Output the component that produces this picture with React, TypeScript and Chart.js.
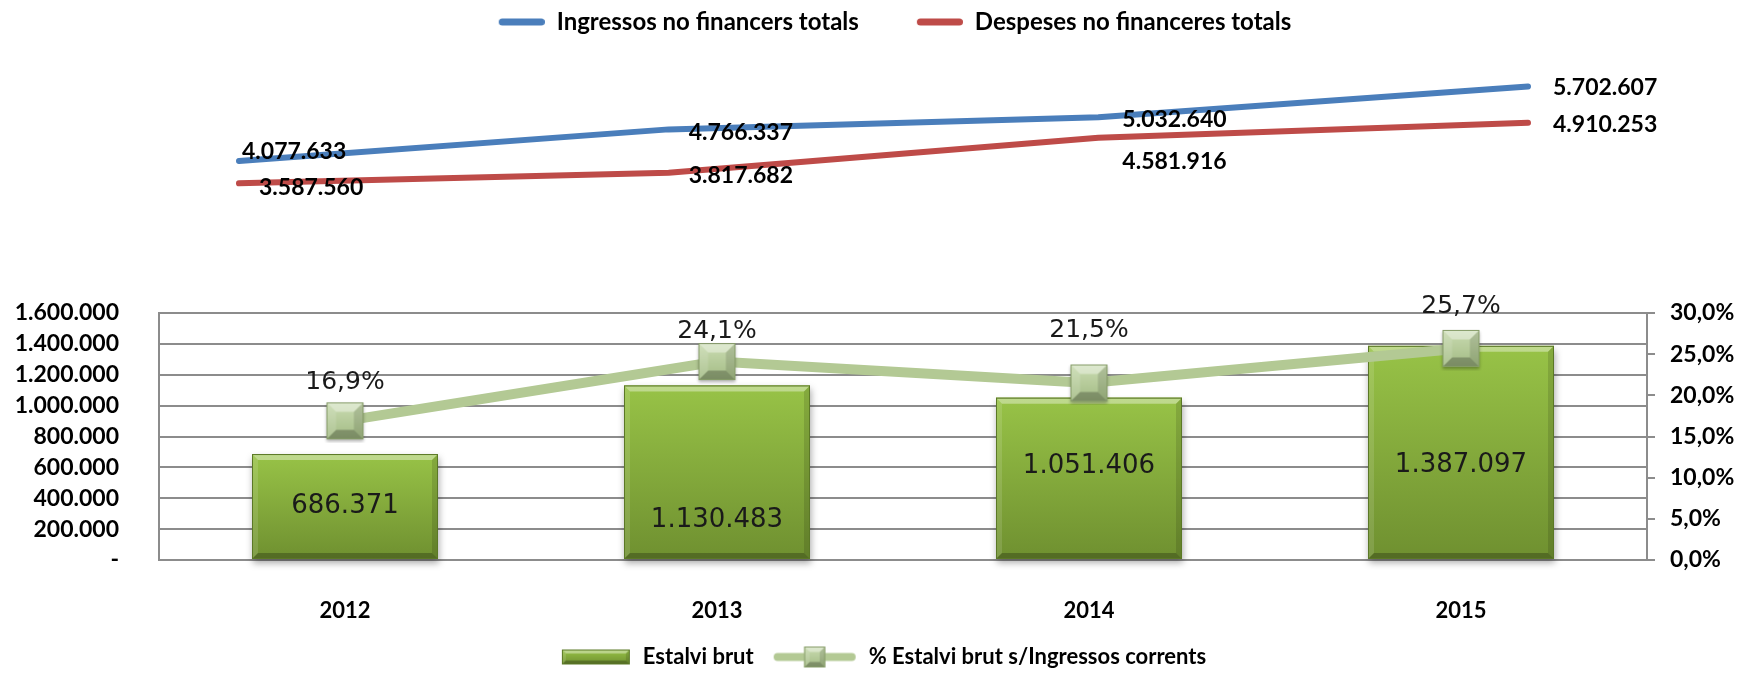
import React, { useEffect, useRef } from 'react';
import { Chart, registerables } from 'chart.js';

Chart.register(...registerables);

const W = 1742;
const H = 678;

// ---------- data ----------
const years = ['2012', '2013', '2014', '2015'];
const ingressosTotals = [4077633, 4766337, 5032640, 5702607];
const despesesTotals = [3587560, 3817682, 4581916, 4910253];
const estalviBrut = [686371, 1130483, 1051406, 1387097];
const pctEstalvi = [16.9, 24.1, 21.5, 25.7];

const topLegendLabels = ['Ingressos no financers totals', 'Despeses no financeres totals'];
const bottomLegendLabels = ['Estalvi brut', '% Estalvi brut s/Ingressos corrents'];

// axis ranges
const leftAxisMax = 1600000;
const leftAxisStep = 200000;
const rightAxisMax = 30;
const rightAxisStep = 5;
const topAxisMin = 1914400;
const topAxisMax = 6630550;

// ---------- label placement (style) ----------
const ingressosLabelDx = [3, 20, 24, 25];
const ingressosLabelDy = [-9, 3, 2, 1];
const despesesLabelDx = [20, 20, 24, 25];
const despesesLabelDy = [4, 3, 24, 2];
const barLabelDy = [0, 48, -12, 13];
const pctLabelRise = [38, 30, 52, 42];

const BOLD_FONT = 'Lato';
const LABEL_FONT = "'DejaVu Sans'";
const GRID = '#8c8c8c';

function fmtThousands(n: number): string {
  return String(Math.round(n)).replace(/\B(?=(\d{3})+(?!\d))/g, '.');
}
function fmtPct(v: number): string {
  return v.toFixed(1).replace('.', ',') + '%';
}

type Palette = { face0: string; face1: string; border: string };

function poly(g: CanvasRenderingContext2D, pts: number[], fill: string) {
  g.beginPath();
  g.moveTo(pts[0], pts[1]);
  for (let i = 2; i < pts.length; i += 2) g.lineTo(pts[i], pts[i + 1]);
  g.closePath();
  g.fillStyle = fill;
  g.fill();
}

function drawBevel(g: CanvasRenderingContext2D, x: number, y: number, w: number, h: number, b: number, pal: Palette) {
  const x1 = x + w;
  const y1 = y + h;
  const face = g.createLinearGradient(0, y, 0, y1);
  face.addColorStop(0, pal.face0);
  face.addColorStop(1, pal.face1);
  g.fillStyle = face;
  g.fillRect(x, y, w, h);
  const bb = Math.min(b, w / 2, h / 2);
  poly(g, [x, y, x1, y, x1 - bb, y + bb, x + bb, y + bb], 'rgba(255,255,255,0.38)');
  poly(g, [x, y, x + bb, y + bb, x + bb, y1 - bb, x, y1], 'rgba(255,255,255,0.12)');
  poly(g, [x1, y, x1, y1, x1 - bb, y1 - bb, x1 - bb, y + bb], 'rgba(0,0,0,0.12)');
  poly(g, [x, y1, x + bb, y1 - bb, x1 - bb, y1 - bb, x1, y1], 'rgba(0,0,0,0.25)');
  g.strokeStyle = pal.border;
  g.lineWidth = 1;
  g.strokeRect(x + 0.5, y + 0.5, w - 1, h - 1);
}

const barPalette: Palette = { face0: '#98c347', face1: '#6f9030', border: '#5b7826' };
const markerPalette: Palette = { face0: '#cadcb2', face1: '#a3bb84', border: '#869c68' };
const LINE_GREEN = '#b3c994';
const BLUE = '#4a7ebb';
const RED = '#be4b48';

function makeMarker(size: number): HTMLCanvasElement {
  const pad = 4;
  const c = document.createElement('canvas');
  c.width = size + pad * 2;
  c.height = size + pad * 2;
  const g = c.getContext('2d')!;
  g.save();
  g.shadowColor = 'rgba(0,0,0,0.3)';
  g.shadowBlur = 3;
  g.shadowOffsetY = 2;
  g.fillStyle = markerPalette.face1;
  g.fillRect(pad, pad, size, size);
  g.restore();
  drawBevel(g, pad, pad, size, size, size * 0.26, markerPalette);
  return c;
}

function makeLineIcon(color: string, boxW: number, lineLen: number): HTMLCanvasElement {
  const c = document.createElement('canvas');
  c.width = boxW;
  c.height = 12;
  const g = c.getContext('2d')!;
  g.strokeStyle = color;
  g.lineWidth = 7;
  g.lineCap = 'round';
  g.beginPath();
  g.moveTo(boxW - lineLen + 3.5, 6);
  g.lineTo(boxW - 3.5, 6);
  g.stroke();
  return c;
}

function makeBarIcon(boxW: number, iconW: number, iconH: number): HTMLCanvasElement {
  const c = document.createElement('canvas');
  c.width = boxW;
  c.height = iconH + 6;
  const g = c.getContext('2d')!;
  drawBevel(g, boxW - iconW - 2, 3, iconW, iconH, 4, barPalette);
  return c;
}

function makeLineMarkerIcon(boxW: number, lineLen: number, sq: number): HTMLCanvasElement {
  const c = document.createElement('canvas');
  c.width = boxW;
  c.height = sq + 6;
  const g = c.getContext('2d')!;
  const cy = c.height / 2;
  const x0 = boxW - lineLen - 2;
  g.strokeStyle = LINE_GREEN;
  g.lineWidth = 8;
  g.lineCap = 'round';
  g.beginPath();
  g.moveTo(x0 + 4, cy);
  g.lineTo(boxW - 6, cy);
  g.stroke();
  const mx = x0 + lineLen / 2 - sq / 2;
  drawBevel(g, mx, cy - sq / 2, sq, sq, sq * 0.26, markerPalette);
  return c;
}

const topLabelsPlugin = {
  id: 'topLabels',
  afterDatasetsDraw(chart: any) {
    const ctx = chart.ctx as CanvasRenderingContext2D;
    ctx.save();
    ctx.font = `bold 23px ${BOLD_FONT}`;
    ctx.fillStyle = '#000';
    ctx.textAlign = 'left';
    ctx.textBaseline = 'middle';
    chart.data.datasets.forEach((ds: any, di: number) => {
      const meta = chart.getDatasetMeta(di);
      meta.data.forEach((pt: any, i: number) => {
        ctx.fillText(fmtThousands(ds.data[i]), pt.x + ds.labelDx[i], pt.y + ds.labelDy[i]);
      });
    });
    ctx.restore();
  },
};

const barBevelPlugin = {
  id: 'barBevel',
  afterDatasetDraw(chart: any, args: any) {
    if (args.meta.type !== 'bar') return;
    const ctx = chart.ctx as CanvasRenderingContext2D;
    args.meta.data.forEach((el: any) => {
      const { x, y, base, width } = el.getProps(['x', 'y', 'base', 'width'], true);
      const l = x - width / 2;
      const h = base - y;
      ctx.save();
      ctx.shadowColor = 'rgba(0,0,0,0.35)';
      ctx.shadowBlur = 7;
      ctx.shadowOffsetX = 1;
      ctx.shadowOffsetY = 4;
      ctx.fillStyle = barPalette.face1;
      ctx.fillRect(l, y, width, h);
      ctx.restore();
      ctx.save();
      drawBevel(ctx, l, y, width, h, 6, barPalette);
      ctx.restore();
    });
  },
};

const bottomLabelsPlugin = {
  id: 'bottomLabels',
  afterDatasetsDraw(chart: any) {
    const ctx = chart.ctx as CanvasRenderingContext2D;
    ctx.save();
    ctx.fillStyle = '#1a1a1a';
    ctx.textAlign = 'center';
    ctx.textBaseline = 'middle';
    const barMeta = chart.getDatasetMeta(0);
    ctx.font = `26px ${LABEL_FONT}`;
    barMeta.data.forEach((el: any, i: number) => {
      const { x, y, base } = el.getProps(['x', 'y', 'base'], true);
      ctx.fillText(fmtThousands(estalviBrut[i]), x, (y + base) / 2 + barLabelDy[i]);
    });
    const lineMeta = chart.getDatasetMeta(1);
    ctx.font = `25px ${LABEL_FONT}`;
    lineMeta.data.forEach((el: any, i: number) => {
      ctx.fillText(fmtPct(pctEstalvi[i]), el.x, el.y - pctLabelRise[i]);
    });
    ctx.restore();
  },
};

export default function App() {
  const topRef = useRef<HTMLCanvasElement>(null);
  const botRef = useRef<HTMLCanvasElement>(null);

  useEffect(() => {
    const topLegendFont = { family: BOLD_FONT, weight: 'bold' as const, size: 24 };
    const legendFont = { family: BOLD_FONT, weight: 'bold' as const, size: 22 };
    const tickFont = { family: BOLD_FONT, weight: 'bold' as const, size: 23 };

    const topBoxW = 94;
    const blueIcon = makeLineIcon(BLUE, topBoxW, 46);
    const redIcon = makeLineIcon(RED, topBoxW, 46);

    const hiddenAxis = (pos: 'left' | 'right', width: number) => ({
      position: pos,
      display: true,
      ticks: { display: false },
      grid: { display: false, drawTicks: false },
      border: { display: false },
      afterFit: (scale: any) => {
        scale.width = width;
      },
    });

    const top = new Chart(topRef.current!, {
      type: 'line',
      data: {
        labels: years,
        datasets: [
          {
            label: topLegendLabels[0],
            data: ingressosTotals,
            borderColor: BLUE,
            backgroundColor: BLUE,
            borderWidth: 6,
            pointRadius: 0,
            tension: 0,
            borderCapStyle: 'round',
            borderJoinStyle: 'round',
            clip: false,
            labelDx: ingressosLabelDx,
            labelDy: ingressosLabelDy,
          } as any,
          {
            label: topLegendLabels[1],
            data: despesesTotals,
            borderColor: RED,
            backgroundColor: RED,
            borderWidth: 6,
            pointRadius: 0,
            tension: 0,
            borderCapStyle: 'round',
            borderJoinStyle: 'round',
            clip: false,
            labelDx: despesesLabelDx,
            labelDy: despesesLabelDy,
          } as any,
        ],
      },
      options: {
        responsive: false,
        animation: false,
        events: [],
        layout: { padding: { left: 0, right: 0, top: 0, bottom: H - 260 } },
        scales: {
          x: { display: false, offset: false },
          y: { ...hiddenAxis('left', 239), min: topAxisMin, max: topAxisMax } as any,
          yr: { ...hiddenAxis('right', 214), min: 0, max: 1 } as any,
        },
        plugins: {
          tooltip: { enabled: false },
          legend: {
            position: 'top',
            align: 'center',
            labels: {
              usePointStyle: true,
              pointStyleWidth: topBoxW,
              padding: 10,
              color: '#000',
              font: topLegendFont,
              generateLabels: () => [
                { text: topLegendLabels[0], pointStyle: blueIcon as any, fillStyle: BLUE, strokeStyle: BLUE, lineWidth: 1, hidden: false, datasetIndex: 0, fontColor: '#000' },
                { text: topLegendLabels[1], pointStyle: redIcon as any, fillStyle: RED, strokeStyle: RED, lineWidth: 1, hidden: false, datasetIndex: 1, fontColor: '#000' },
              ],
            },
          },
        },
      },
      plugins: [topLabelsPlugin],
    });

    const markerImg = makeMarker(37);
    const botBoxW = 96;
    const barIcon = makeBarIcon(botBoxW, 68, 15);
    const lineIcon = makeLineMarkerIcon(botBoxW, 82, 21);

    const bottom = new Chart(botRef.current!, {
      type: 'bar',
      data: {
        labels: years,
        datasets: [
          {
            type: 'bar',
            label: bottomLegendLabels[0],
            data: estalviBrut,
            yAxisID: 'y',
            backgroundColor: '#84ab3c',
            borderColor: '#5b7826',
            borderWidth: 1,
            barPercentage: 0.5,
            categoryPercentage: 1,
            order: 1,
          },
          {
            type: 'line',
            label: bottomLegendLabels[1],
            data: pctEstalvi,
            yAxisID: 'y1',
            borderColor: LINE_GREEN,
            backgroundColor: LINE_GREEN,
            borderWidth: 10,
            pointStyle: markerImg as any,
            pointRadius: 18,
            tension: 0,
            order: 0,
          } as any,
        ],
      },
      options: {
        responsive: false,
        animation: false,
        events: [],
        layout: { padding: { left: 0, right: 0, top: 313, bottom: 0 } },
        scales: {
          x: {
            type: 'category',
            offset: true,
            grid: { display: false },
            border: { display: true, color: GRID, width: 2 },
            ticks: { color: '#000', font: { family: BOLD_FONT, weight: 'bold', size: 22 }, padding: 30 },
            afterFit: (scale: any) => {
              scale.height = 78;
            },
          },
          y: {
            position: 'left',
            min: 0,
            max: leftAxisMax,
            ticks: {
              stepSize: leftAxisStep,
              color: '#000',
              font: tickFont,
              padding: 40,
              callback: (v: any) => (Number(v) === 0 ? '-' : fmtThousands(Number(v))),
            },
            grid: { color: GRID, lineWidth: 2, drawTicks: false },
            border: { display: true, color: GRID, width: 2 },
            afterFit: (scale: any) => {
              scale.width = 159;
            },
          },
          y1: {
            position: 'right',
            min: 0,
            max: rightAxisMax,
            ticks: {
              stepSize: rightAxisStep,
              color: '#000',
              font: tickFont,
              padding: 15,
              callback: (v: any) => fmtPct(Number(v)),
            },
            grid: { drawOnChartArea: false, drawTicks: true, tickLength: 8, color: GRID, lineWidth: 2 },
            border: { display: true, color: GRID, width: 2 },
            afterFit: (scale: any) => {
              scale.width = 95;
            },
          },
        },
        plugins: {
          tooltip: { enabled: false },
          legend: {
            position: 'bottom',
            align: 'center',
            labels: {
              usePointStyle: true,
              pointStyleWidth: botBoxW,
              padding: 8,
              color: '#000',
              font: legendFont,
              generateLabels: () => [
                { text: bottomLegendLabels[0], pointStyle: barIcon as any, fillStyle: '#84ab3c', strokeStyle: '#5b7826', lineWidth: 1, hidden: false, datasetIndex: 0, fontColor: '#000' },
                { text: bottomLegendLabels[1], pointStyle: lineIcon as any, fillStyle: LINE_GREEN, strokeStyle: LINE_GREEN, lineWidth: 1, hidden: false, datasetIndex: 1, fontColor: '#000' },
              ],
            },
          },
        },
      },
      plugins: [barBevelPlugin, bottomLabelsPlugin],
    });

    return () => {
      top.destroy();
      bottom.destroy();
    };
  }, []);

  return (
    <div style={{ position: 'fixed', left: 0, top: 0, width: W, height: H, background: '#fff' }}>
      <canvas ref={botRef} width={W} height={H} style={{ position: 'absolute', left: 0, top: 0 }} />
      <canvas ref={topRef} width={W} height={H} style={{ position: 'absolute', left: 0, top: 0 }} />
    </div>
  );
}
